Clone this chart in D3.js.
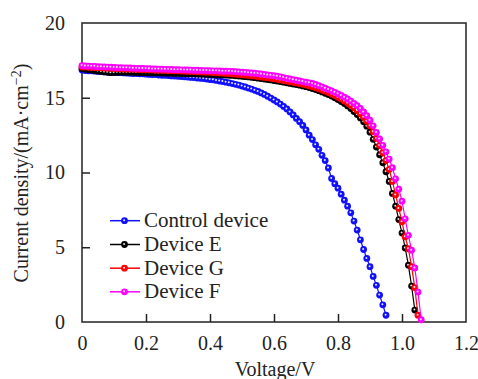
<!DOCTYPE html>
<html>
<head>
<meta charset="utf-8">
<script src="https://cdn.jsdelivr.net/npm/d3@7"></script>
<style>
html,body{margin:0;padding:0;background:#fff;}
svg{display:block;}
svg text{font-family:"Liberation Serif","Times New Roman",Times,"DejaVu Serif",serif;fill:#222;}
</style>
</head>
<body>
<svg id="chart" width="478" height="379"></svg>
<script>
const voltage = [0.00,0.01,0.02,0.03,0.04,0.05,0.06,0.07,0.08,0.09,
0.10,0.11,0.12,0.13,0.14,0.15,0.16,0.17,0.18,0.19,
0.20,0.21,0.22,0.23,0.24,0.25,0.26,0.27,0.28,0.29,
0.30,0.31,0.32,0.33,0.34,0.35,0.36,0.37,0.38,0.39,
0.40,0.41,0.42,0.43,0.44,0.45,0.46,0.47,0.48,0.49,
0.50,0.51,0.52,0.53,0.54,0.55,0.56,0.57,0.58,0.59,
0.60,0.61,0.62,0.63,0.64,0.65,0.66,0.67,0.68,0.69,
0.70,0.71,0.72,0.73,0.74,0.75,0.76,0.77,0.78,0.79,
0.80,0.81,0.82,0.83,0.84,0.85,0.86,0.87,0.88,0.89,
0.90,0.91,0.92,0.93,0.94,0.95,0.96,0.97,0.98,0.99,
1.00,1.01,1.02,1.03,1.04,1.05,1.06];

const controlJ = [16.85,16.82,16.80,16.80,16.78,16.76,16.75,16.74,16.72,16.72,
16.70,16.68,16.68,16.66,16.65,16.64,16.62,16.62,16.60,16.60,
16.58,16.56,16.55,16.55,16.52,16.50,16.50,16.48,16.46,16.45,
16.43,16.42,16.40,16.38,16.36,16.35,16.32,16.30,16.28,16.25,
16.22,16.20,16.16,16.12,16.08,16.04,16.00,15.95,15.90,15.85,
15.78,15.72,15.65,15.58,15.50,15.42,15.32,15.22,15.10,14.98,
14.85,14.72,14.58,14.42,14.25,14.05,13.85,13.62,13.40,13.15,
12.85,12.50,12.20,11.85,11.55,11.15,10.80,10.30,9.60,9.25,
8.95,8.55,8.15,7.75,7.30,6.75,6.15,5.50,4.85,4.25,
3.70,3.05,2.45,1.80,1.15,0.45];

const deviceEJ = [16.95,16.92,16.88,16.85,16.82,16.79,16.76,16.73,16.70,16.68,
16.69,16.70,16.71,16.71,16.71,16.70,16.70,16.69,16.69,16.68,
16.68,16.67,16.67,16.66,16.66,16.65,16.65,16.64,16.64,16.63,
16.63,16.62,16.62,16.61,16.60,16.60,16.59,16.58,16.58,16.57,
16.56,16.55,16.54,16.54,16.53,16.52,16.50,16.49,16.47,16.45,
16.43,16.41,16.39,16.37,16.34,16.31,16.28,16.25,16.22,16.19,
16.15,16.12,16.08,16.04,16.00,15.96,15.92,15.88,15.84,15.79,
15.74,15.68,15.62,15.55,15.47,15.39,15.30,15.21,15.11,15.00,
14.88,14.75,14.61,14.45,14.28,14.08,13.88,13.65,13.40,13.10,
12.70,12.22,11.70,11.18,10.65,10.05,9.40,8.60,7.75,6.85,
5.95,4.95,3.80,2.40,0.80];

const deviceGJ = [17.05,17.05,17.04,17.03,17.02,17.02,17.00,16.99,16.98,16.97,
16.96,16.95,16.94,16.93,16.92,16.92,16.91,16.90,16.89,16.88,
16.88,16.87,16.86,16.85,16.84,16.84,16.83,16.82,16.81,16.80,
16.80,16.79,16.78,16.77,16.76,16.75,16.74,16.73,16.72,16.71,
16.70,16.69,16.68,16.66,16.65,16.63,16.62,16.60,16.58,16.56,
16.54,16.52,16.50,16.47,16.45,16.42,16.39,16.36,16.33,16.30,
16.27,16.23,16.19,16.15,16.11,16.07,16.03,15.99,15.95,15.90,
15.85,15.80,15.74,15.67,15.60,15.52,15.44,15.35,15.25,15.15,
15.04,14.92,14.79,14.65,14.50,14.33,14.14,13.93,13.70,13.43,
13.12,12.72,12.28,11.80,11.32,10.80,10.20,9.40,8.50,7.60,
6.70,5.70,4.90,3.70,2.30,0.45];

const deviceFJ = [17.15,17.13,17.12,17.10,17.10,17.08,17.07,17.06,17.05,17.04,
17.03,17.02,17.01,17.00,17.00,16.99,16.98,16.97,16.96,16.96,
16.95,16.94,16.93,16.93,16.92,16.91,16.90,16.90,16.89,16.88,
16.88,16.87,16.86,16.86,16.85,16.84,16.84,16.83,16.82,16.82,
16.81,16.80,16.80,16.79,16.78,16.78,16.77,16.76,16.74,16.73,
16.71,16.70,16.68,16.66,16.64,16.62,16.59,16.56,16.53,16.50,
16.47,16.44,16.40,16.35,16.30,16.26,16.21,16.17,16.12,16.08,
16.04,16.00,15.96,15.89,15.81,15.73,15.64,15.55,15.46,15.36,
15.26,15.15,15.04,14.92,14.78,14.63,14.47,14.28,14.05,13.80,
13.50,13.12,12.68,12.24,11.82,11.38,10.90,10.32,9.58,8.88,
8.08,6.90,5.80,4.80,3.62,2.00,0.15];

const seriesNames = ["Control device","Device E","Device G","Device F"];
const seriesColors = ["#1010ff","#000000","#ff0000","#ff00ff"];
const seriesValues = [controlJ, deviceEJ, deviceGJ, deviceFJ];
const xTicks = [0,0.2,0.4,0.6,0.8,1.0,1.2];
const yTicks = [0,5,10,15,20];

const FONT = "'Liberation Serif','Times New Roman',Times,'DejaVu Serif',serif";
const svg = d3.select("#chart");
const x = d3.scaleLinear().domain([0,1.2]).range([82,466]);
const y = d3.scaleLinear().domain([0,20]).range([322,23]);

// axes
const xAxis = d3.axisBottom(x).tickValues(xTicks).tickSize(-8).tickPadding(14)
  .tickFormat(d => d===0 ? "0" : d.toFixed(1));
const gx = svg.append("g").attr("transform","translate(0,322)").call(xAxis);
const yAxis = d3.axisLeft(y).tickValues(yTicks).tickSize(-8).tickPadding(17)
  .tickFormat(d => String(d));
const gy = svg.append("g").attr("transform","translate(82,0)").call(yAxis);
[gx,gy].forEach(g=>{
  g.attr("font-family",FONT);
  g.select(".domain").remove();
  g.selectAll("line").attr("stroke","#222").attr("stroke-width",1.5);
  g.selectAll("text").attr("font-size",20).attr("fill","#222").attr("font-family",FONT);
});
gx.selectAll(".tick").filter(d=>d===0||d===1.2).select("line").remove();
gy.selectAll(".tick").filter(d=>d===0||d===20).select("line").remove();

svg.append("rect").attr("x",82).attr("y",23).attr("width",384).attr("height",299)
  .attr("fill","none").attr("stroke","#222").attr("stroke-width",1.5);

// marker: solid ball with small white highlight
function drawMarkers(g, pts, color){
  g.selectAll("circle.ball").data(pts).join("circle").attr("class","ball")
    .attr("cx",d=>x(d[0])).attr("cy",d=>y(d[1])).attr("r",3.4)
    .attr("fill",color);
  g.selectAll("circle.hl").data(pts).join("circle").attr("class","hl")
    .attr("cx",d=>x(d[0])-0.4).attr("cy",d=>y(d[1])-0.5).attr("r",1.0)
    .attr("fill","#ffffff").attr("opacity",0.9);
}

// series
const line = d3.line().x(d=>x(d[0])).y(d=>y(d[1]));
seriesValues.forEach((vals,i)=>{
  const pts = vals.map((v,k)=>[voltage[k], v]);
  const g = svg.append("g");
  g.append("path").attr("d",line(pts)).attr("fill","none")
    .attr("stroke",seriesColors[i]).attr("stroke-width",1.2);
  drawMarkers(g, pts, seriesColors[i]);
});

// legend
const legendY = [220.7,244.5,268.2,291.8];
seriesNames.forEach((name,i)=>{
  const g = svg.append("g");
  g.append("line").attr("x1",110).attr("x2",140).attr("y1",legendY[i]).attr("y2",legendY[i])
    .attr("stroke",seriesColors[i]).attr("stroke-width",1.5);
  g.append("circle").attr("cx",124.5).attr("cy",legendY[i]).attr("r",3.4)
    .attr("fill",seriesColors[i]);
  g.append("circle").attr("cx",124.1).attr("cy",legendY[i]-0.5).attr("r",1.0)
    .attr("fill","#ffffff").attr("opacity",0.9);
  g.append("text").attr("x",144).attr("y",legendY[i]+6.5).attr("font-size",21)
    .attr("font-family",FONT).text(name);
});

// axis titles
svg.append("text").attr("x",275).attr("y",376).attr("text-anchor","middle")
  .attr("font-family",FONT).attr("font-size",20).text("Voltage/V");
const yl = svg.append("text").attr("transform","translate(28,173) rotate(-90)")
  .attr("text-anchor","middle").attr("font-family",FONT).attr("font-size",20);
yl.append("tspan").text("Current density/(mA·cm");
yl.append("tspan").attr("dy",-7).attr("font-size",14).text("−2");
yl.append("tspan").attr("dy",7).text(")");
</script>
</body>
</html>
